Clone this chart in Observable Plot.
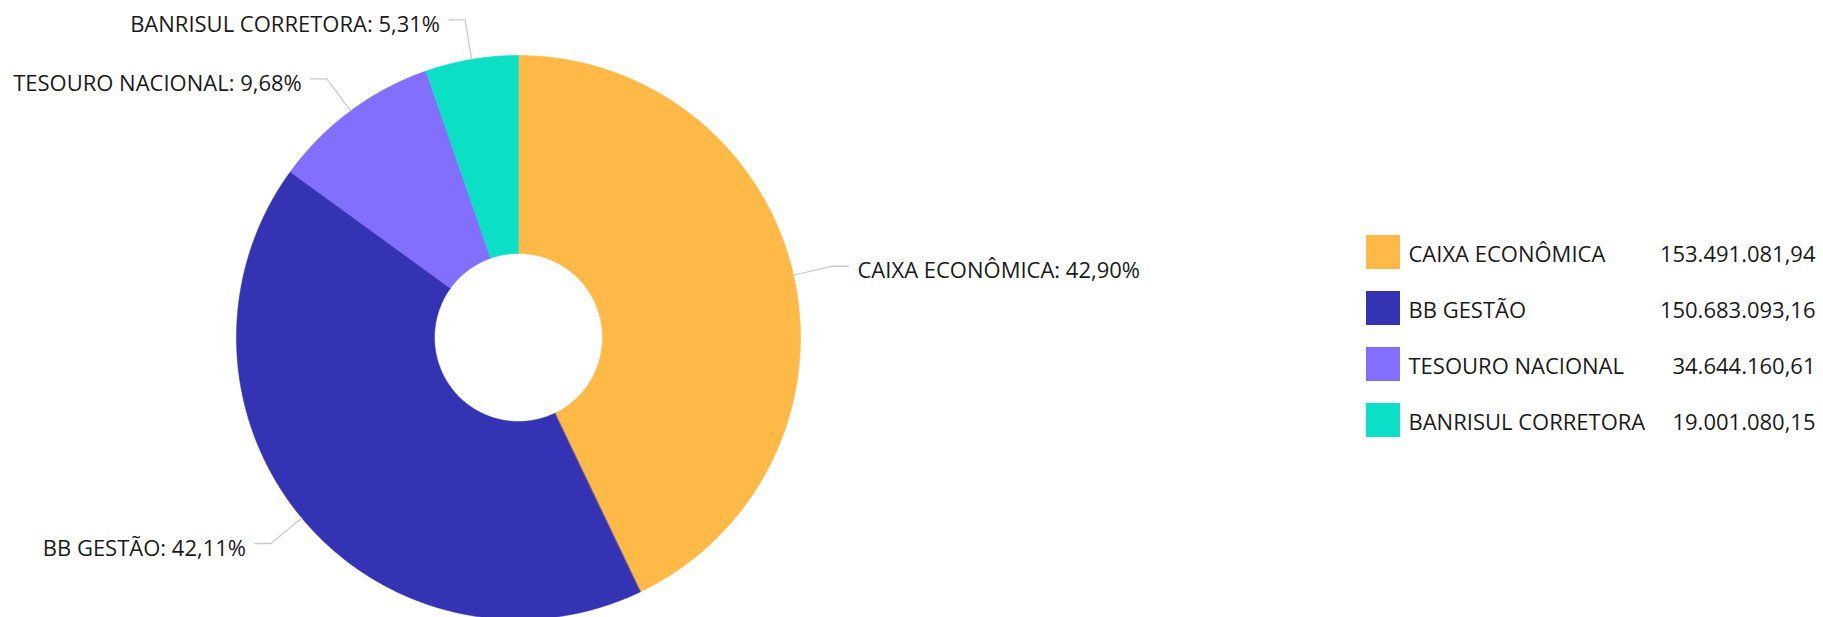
<!DOCTYPE html>
<html><head><meta charset="utf-8">
<script src="https://cdn.jsdelivr.net/npm/d3@7"></script>
<script src="https://cdn.jsdelivr.net/npm/@observablehq/plot@0.6"></script>
<style>html,body{margin:0;padding:0;background:#fff;} #chart{width:1823px;height:617px;overflow:hidden;}</style>
</head><body><div id="chart"></div>
<script>
// ---- data ----
const names = ["CAIXA ECONÔMICA", "BB GESTÃO", "TESOURO NACIONAL", "BANRISUL CORRETORA"];
const values = [153491081.94, 150683093.16, 34644160.61, 19001080.15];
const colors = ["#FFB947", "#3333B3", "#836FFD", "#0BE0C6"];

// ---- layout ----
const W = 1823, H = 617;
const cx = 518, cy = 337;       // pie centre in pixels
const R = 282, R0 = 84, K = 322; // outer, inner, connector knee radius
const legendX = 1366, legendY0 = 252, legendStep = 56, legendSq = 34, legendValX = 1815;

const br = d3.formatLocale({decimal: ",", thousands: ".", grouping: [3], currency: ["R$", ""]});
const fmtVal = br.format(",.2f");
const fmtPct = br.format(".2f");

const total = d3.sum(values);
const rows = names.map((name, i) => ({name, value: values[i], i}));
const arcs = d3.pie().sort(null).value(d => d.value)(rows);

// slice polygons (geometry in pixel-unit coordinates, y up, centre at 0,0)
const pts = [];
for (const a of arcs) {
  const n = Math.max(2, Math.ceil((a.endAngle - a.startAngle) / (Math.PI / 360)));
  for (let k = 0; k <= n; k++) {
    const t = a.startAngle + (a.endAngle - a.startAngle) * k / n;
    pts.push({name: a.data.name, x: R * Math.sin(t), y: R * Math.cos(t)});
  }
  for (let k = n; k >= 0; k--) {
    const t = a.startAngle + (a.endAngle - a.startAngle) * k / n;
    pts.push({name: a.data.name, x: R0 * Math.sin(t), y: R0 * Math.cos(t)});
  }
}

// connectors and labels
const conn = [];
const labels = [];
for (const a of arcs) {
  const m = (a.startAngle + a.endAngle) / 2;
  const s = Math.sin(m), c = Math.cos(m);
  const side = s >= 0 ? 1 : -1;
  const kx = K * s, ky = K * c;
  conn.push({name: a.data.name, x: R * s, y: R * c});
  conn.push({name: a.data.name, x: kx, y: ky});
  conn.push({name: a.data.name, x: kx + side * 16, y: ky});
  labels.push({side, x: kx + side * 25, y: ky - 5,
    text: `${a.data.name}: ${fmtPct(a.data.value / total * 100)}%`});
}

// legend rows
const leg = rows.map(d => {
  const yc = (cy - legendY0) - d.i * legendStep;
  return {name: d.name, val: fmtVal(d.value), yc,
    x1: legendX - cx, x2: legendX + legendSq - cx, y1: yc - legendSq / 2, y2: yc + legendSq / 2,
    tx: legendX + legendSq + 8 - cx, vx: legendValX - cx, ty: yc - 2.5};
});

const plot = Plot.plot({
  width: W, height: H,
  marginTop: 0, marginRight: 0, marginBottom: 0, marginLeft: 0,
  x: {domain: [-cx, W - cx], axis: null},
  y: {domain: [-(H - cy), cy], axis: null},
  color: {domain: names, range: colors},
  style: {fontFamily: "'Open Sans', sans-serif", background: "#fff", color: "#1a1a1a"},
  marks: [
    Plot.line(pts, {x: "x", y: "y", z: "name", fill: "name", stroke: "name", strokeWidth: 0.6, curve: "linear-closed"}),
    Plot.line(conn, {x: "x", y: "y", z: "name", stroke: "#cccccc", strokeWidth: 1.3}),
    Plot.text(labels.filter(d => d.side > 0), {x: "x", y: "y", text: "text", textAnchor: "start", fontSize: 22, fill: "#1a1a1a"}),
    Plot.text(labels.filter(d => d.side < 0), {x: "x", y: "y", text: "text", textAnchor: "end", fontSize: 22, fill: "#1a1a1a"}),
    Plot.rect(leg, {x1: "x1", x2: "x2", y1: "y1", y2: "y2", fill: "name"}),
    Plot.text(leg, {x: "tx", y: "ty", text: "name", textAnchor: "start", fontSize: 22, fill: "#1a1a1a"}),
    Plot.text(leg, {x: "vx", y: "ty", text: "val", textAnchor: "end", fontSize: 22, fill: "#1a1a1a"})
  ]
});
document.getElementById("chart").appendChild(plot);
</script>
</body></html>
